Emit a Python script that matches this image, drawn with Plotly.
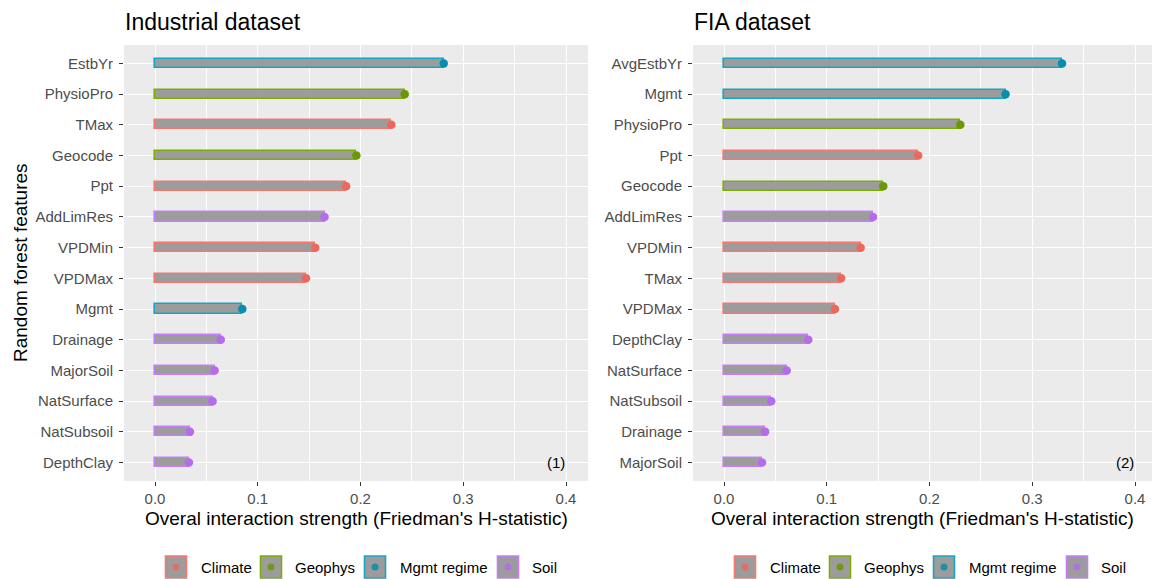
import plotly.graph_objects as go

# ---- data -------------------------------------------------------------
industrial_features = ["EstbYr", "PhysioPro", "TMax", "Geocode", "Ppt", "AddLimRes",
                       "VPDMin", "VPDMax", "Mgmt", "Drainage", "MajorSoil",
                       "NatSurface", "NatSubsoil", "DepthClay"]
industrial_values = [0.281, 0.243, 0.230, 0.196, 0.186, 0.165, 0.156, 0.147,
                     0.085, 0.064, 0.058, 0.056, 0.034, 0.033]
industrial_groups = ["Mgmt regime", "Geophys", "Climate", "Geophys", "Climate", "Soil",
                     "Climate", "Climate", "Mgmt regime", "Soil", "Soil", "Soil",
                     "Soil", "Soil"]

fia_features = ["AvgEstbYr", "Mgmt", "PhysioPro", "Ppt", "Geocode", "AddLimRes",
                "VPDMin", "TMax", "VPDMax", "DepthClay", "NatSurface",
                "NatSubsoil", "Drainage", "MajorSoil"]
fia_values = [0.329, 0.274, 0.230, 0.189, 0.155, 0.145, 0.133, 0.114, 0.108,
              0.082, 0.061, 0.046, 0.040, 0.037]
fia_groups = ["Mgmt regime", "Mgmt regime", "Geophys", "Climate", "Geophys", "Soil",
              "Climate", "Climate", "Climate", "Soil", "Soil", "Soil", "Soil", "Soil"]

group_names = ["Climate", "Geophys", "Mgmt regime", "Soil"]
x_ticks = [0.0, 0.1, 0.2, 0.3, 0.4]
panel_titles = ["Industrial dataset", "FIA dataset"]
panel_tags = ["(1)", "(2)"]
x_title = "Overal interaction strength (Friedman's H-statistic)"
y_title = "Random forest features"

# ---- style ------------------------------------------------------------
outline_col = {"Climate": "#F8766D", "Geophys": "#7CAE00",
               "Mgmt regime": "#14A6C6", "Soil": "#C77CFF"}
dot_col = {"Climate": "#EC675D", "Geophys": "#6A9800",
           "Mgmt regime": "#058EAE", "Soil": "#B46CEA"}
BAR_FILL = "#9C9C9C"
PANEL_BG = "#EBEBEB"
FONT = "Liberation Sans, Arial, sans-serif"
W, H = 1152, 579


def px_x(p):
    return p / W


def px_y(p):
    return 1 - p / H


fig = go.Figure()

panels = [
    (industrial_features, industrial_values, industrial_groups, "x", "y"),
    (fia_features, fia_values, fia_groups, "x2", "y2"),
]

for feats, vals, grps, xa, ya in panels:
    fig.add_trace(go.Bar(
        x=vals, y=feats, orientation="h", width=0.3,
        marker=dict(color=BAR_FILL,
                    line=dict(color=[outline_col[g] for g in grps], width=1.6)),
        xaxis=xa, yaxis=ya, showlegend=False, hoverinfo="x+y",
    ))
    fig.add_trace(go.Scatter(
        x=vals, y=feats, mode="markers",
        marker=dict(size=8.5, color=[dot_col[g] for g in grps], line=dict(width=0)),
        xaxis=xa, yaxis=ya, showlegend=False, hoverinfo="skip",
    ))

# panel geometry (pixels)
left_dom = (124, 588)
right_dom = (693, 1152)
top_px, bot_px = 45, 481
zero_left, zero_right = 155, 724
px_per_unit = 1027.5

axis_common = dict(
    showline=False, zeroline=False, showgrid=True, gridcolor="white",
    ticks="outside", ticklen=4, tickwidth=1, tickcolor="#333333",
    tickfont=dict(family=FONT, size=15, color="#4D4D4D"),
)

for i, (dom, zero) in enumerate([(left_dom, zero_left), (right_dom, zero_right)]):
    suffix = "" if i == 0 else str(i + 1)
    feats = panels[i][0]
    rng = [(dom[0] - zero) / px_per_unit, (dom[1] - zero) / px_per_unit]
    fig.layout["xaxis" + suffix] = dict(
        axis_common, domain=[px_x(dom[0]), px_x(dom[1])], range=rng,
        tickvals=x_ticks, ticktext=[f"{v:.1f}" for v in x_ticks],
        gridwidth=1.3, anchor="y" + suffix,
        minor=dict(tickvals=[0.05, 0.15, 0.25, 0.35], showgrid=True,
                   gridcolor="white", gridwidth=0.6, ticks=""),
    )
    fig.layout["yaxis" + suffix] = dict(
        axis_common, domain=[px_y(bot_px), px_y(top_px)],
        type="category", categoryorder="array", categoryarray=feats,
        range=[len(feats) - 0.4, -0.6], gridwidth=1.3, anchor="x" + suffix,
        ticklabelstandoff=3,
    )

    # panel background
    fig.add_shape(type="rect", xref="paper", yref="paper",
                  x0=px_x(dom[0]), x1=px_x(dom[1]), y0=px_y(bot_px), y1=px_y(top_px),
                  fillcolor=PANEL_BG, line=dict(width=0), layer="below")

    # panel title
    fig.add_annotation(text=panel_titles[i], xref="paper", yref="paper",
                       x=px_x(dom[0] - 1), y=px_y(22), xanchor="left", yanchor="middle",
                       showarrow=False, font=dict(family=FONT, size=23, color="black"))
    # x axis title
    fig.add_annotation(text=x_title, xref="paper", yref="paper",
                       x=px_x((dom[0] + dom[1]) / 2), y=px_y(518),
                       xanchor="center", yanchor="middle", showarrow=False,
                       font=dict(family=FONT, size=19, color="black"))
    # panel tag
    fig.add_annotation(text=panel_tags[i], xref="x" + suffix, yref="y" + suffix,
                       x=0.39, y=feats[-1], xanchor="center", yanchor="middle",
                       showarrow=False, font=dict(family=FONT, size=15, color="black"))

    # legend row under each panel
    offset = 0 if i == 0 else 569
    key_centers = [176, 271, 375, 508]
    text_starts = [199, 293, 398, 530]
    for g, kc, ts in zip(group_names, key_centers, text_starts):
        kc += offset
        ts += offset
        fig.add_shape(type="rect", xref="paper", yref="paper",
                      x0=px_x(kc - 10.5), x1=px_x(kc + 10.5),
                      y0=px_y(578), y1=px_y(556),
                      fillcolor=BAR_FILL, line=dict(color=outline_col[g], width=1.6))
        fig.add_shape(type="circle", xref="paper", yref="paper",
                      x0=px_x(kc - 3.5), x1=px_x(kc + 3.5),
                      y0=px_y(570.5), y1=px_y(563.5),
                      fillcolor=dot_col[g], opacity=0.85, line=dict(width=0))
        fig.add_annotation(text=g, xref="paper", yref="paper",
                           x=px_x(ts), y=px_y(567), xanchor="left", yanchor="middle",
                           showarrow=False,
                           font=dict(family=FONT, size=15, color="black"))

# y axis title (left panel only)
fig.add_annotation(text=y_title, xref="paper", yref="paper",
                   x=px_x(20), y=px_y((top_px + bot_px) / 2), textangle=-90,
                   xanchor="center", yanchor="middle", showarrow=False,
                   font=dict(family=FONT, size=19, color="black"))

fig.update_layout(
    width=W, height=H, margin=dict(l=0, r=0, t=0, b=0),
    paper_bgcolor="white", plot_bgcolor=PANEL_BG,
    showlegend=False, bargap=0,
)

fig.write_html("out.html")
